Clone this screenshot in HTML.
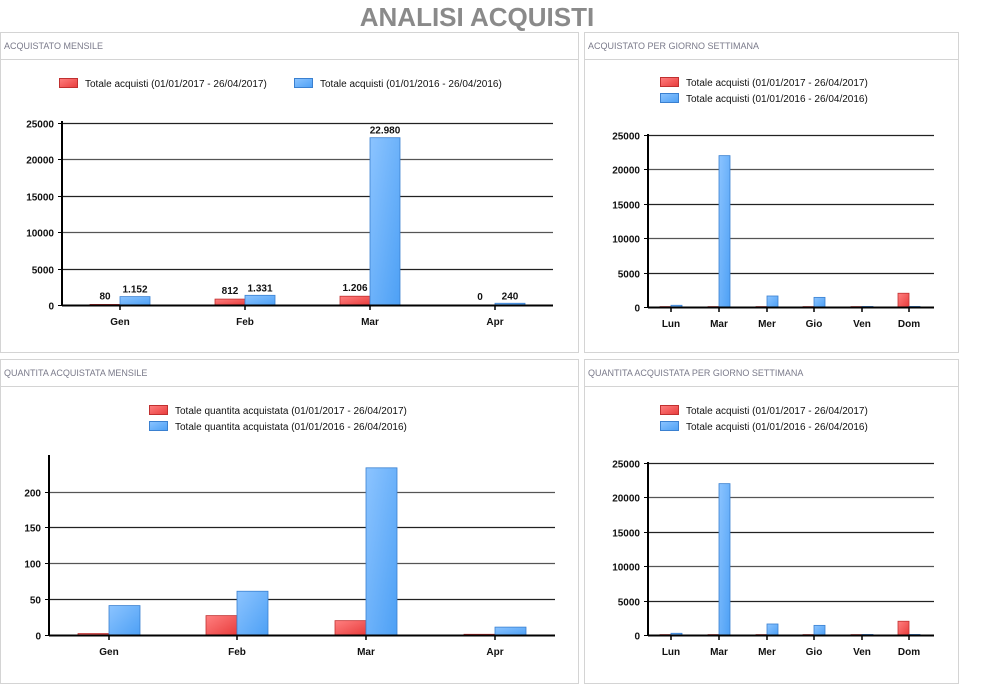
<!DOCTYPE html>
<html><head><meta charset="utf-8">
<style>
body{margin:0;background:#fff;width:986px;height:698px;overflow:hidden;font-family:"Liberation Sans",sans-serif;}
svg{position:absolute;left:0;top:0}
</style></head>
<body>
<svg id="s" width="986" height="698" xmlns="http://www.w3.org/2000/svg">
<defs>
<linearGradient id="r" x1="0" y1="0" x2="1" y2="1"><stop offset="0" stop-color="#ff8080"/><stop offset="1" stop-color="#e83c3c"/></linearGradient>
<linearGradient id="b" x1="0" y1="0" x2="1" y2="1"><stop offset="0" stop-color="#8cc4ff"/><stop offset="1" stop-color="#4da0f5"/></linearGradient>
</defs>
<text x="477" y="26" text-anchor="middle" font-size="26" font-weight="bold" fill="#8a8a8a">ANALISI ACQUISTI</text>
</svg>
<script>
const s=document.getElementById('s');let h='';
function panel(x,y,w,hh,title){
 h+=`<rect x="${x+.5}" y="${y+.5}" width="${w}" height="${hh}" fill="none" stroke="#d4d4d4"/>`;
 h+=`<line x1="${x}" y1="${y+27.5}" x2="${x+w}" y2="${y+27.5}" stroke="#d4d4d4"/>`;
 h+=`<text x="${x+4}" y="${y+17}" font-size="9" fill="#7a7a8a">${title}</text>`;
}
function leg(x,y,c,t){h+=`<rect x="${x+.5}" y="${y-5.5}" width="18" height="9" fill="url(#${c})" stroke="${c=='r'?'#c03030':'#3a80d0'}"/><text x="${x+26}" y="${y+3}" font-size="10" fill="#111">${t}</text>`;}
function chart(o){
 const {ax,right,y0,ytop,max,step,ticks,cats,cx,bw,red,blue,lab,axTop}=o;
 const sc=(y0-ytop)/max;
 for(const t of ticks){const y=Math.round(y0-t*sc)+.5;
  if(t>0)h+=`<line x1="${ax}" y1="${y}" x2="${right}" y2="${y}" stroke="${(t/step)%2?'#222':'#555'}" stroke-width="1.2"/>`;
  h+=`<line x1="${ax-4}" y1="${y}" x2="${ax}" y2="${y}" stroke="#000"/><text x="${ax-8}" y="${y+4}" text-anchor="end" font-size="10" font-weight="bold" fill="#111">${t}</text>`;}
 cats.forEach((c,i)=>{const x=cx[i];
  const rh=red[i]*sc,bh=blue[i]*sc;
  h+=`<rect x="${x-bw}" y="${y0-rh}" width="${bw}" height="${Math.max(rh,1)}" fill="url(#r)" stroke="#c03030" stroke-width="0.8"/>`;
  h+=`<rect x="${x}" y="${y0-bh}" width="${bw}" height="${Math.max(bh,1)}" fill="url(#b)" stroke="#3a80d0" stroke-width="0.8"/>`;
  h+=`<line x1="${x}" y1="${y0}" x2="${x}" y2="${y0+5}" stroke="#000" stroke-width="1.5"/>`;
  h+=`<text x="${x}" y="${y0+20}" text-anchor="middle" font-size="10" font-weight="bold" fill="#111">${c}</text>`;
  if(lab){h+=`<text x="${x-bw/2}" y="${y0-rh-5}" text-anchor="middle" font-size="10" font-weight="bold" fill="#111">${lab[0][i]}</text><text x="${x+bw/2}" y="${y0-bh-4}" text-anchor="middle" font-size="10" font-weight="bold" fill="#111">${lab[1][i]}</text>`;}
 });
 h+=`<line x1="${ax}" y1="${axTop}" x2="${ax}" y2="${y0+1}" stroke="#000" stroke-width="2"/>`;
 h+=`<line x1="${ax}" y1="${y0+.5}" x2="${right}" y2="${y0+.5}" stroke="#000" stroke-width="2"/>`;
}
panel(0,32,578,320,'ACQUISTATO MENSILE');
leg(59,84,'r','Totale acquisti (01/01/2017 - 26/04/2017)');
leg(294,84,'b','Totale acquisti (01/01/2016 - 26/04/2016)');
chart({ax:62,right:553,y0:305,ytop:123,max:25000,step:5000,ticks:[0,5000,10000,15000,20000,25000],cats:['Gen','Feb','Mar','Apr'],cx:[120,245,370,495],bw:30,red:[80,812,1206,0],blue:[1152,1331,22980,240],lab:[['80','812','1.206','0'],['1.152','1.331','22.980','240']],axTop:121});
panel(584,32,374,320,'ACQUISTATO PER GIORNO SETTIMANA');
leg(660,83,'r','Totale acquisti (01/01/2017 - 26/04/2017)');
leg(660,99,'b','Totale acquisti (01/01/2016 - 26/04/2016)');
const days=['Lun','Mar','Mer','Gio','Ven','Dom'],dx=[671,719,767,814,862,909],dr=[60,60,60,60,60,2000],db=[250,22000,1600,1400,80,80];
chart({ax:648,right:934,y0:307,ytop:135,max:25000,step:5000,ticks:[0,5000,10000,15000,20000,25000],cats:days,cx:dx,bw:11,red:dr,blue:db,axTop:134});
panel(0,359,578,324,'QUANTITA ACQUISTATA MENSILE');
leg(149,411,'r','Totale quantita acquistata (01/01/2017 - 26/04/2017)');
leg(149,427,'b','Totale quantita acquistata (01/01/2016 - 26/04/2016)');
chart({ax:49,right:555,y0:635,ytop:491.5,max:200,step:50,ticks:[0,50,100,150,200],cats:['Gen','Feb','Mar','Apr'],cx:[109,237,366,495],bw:31,red:[2,27,20,1],blue:[41,61,233,11],axTop:455});
panel(584,359,374,324,'QUANTITA ACQUISTATA PER GIORNO SETTIMANA');
leg(660,411,'r','Totale acquisti (01/01/2017 - 26/04/2017)');
leg(660,427,'b','Totale acquisti (01/01/2016 - 26/04/2016)');
chart({ax:648,right:934,y0:635,ytop:463,max:25000,step:5000,ticks:[0,5000,10000,15000,20000,25000],cats:days,cx:dx,bw:11,red:dr,blue:db,axTop:462});
s.insertAdjacentHTML('beforeend',h);
</script>
</body></html>
